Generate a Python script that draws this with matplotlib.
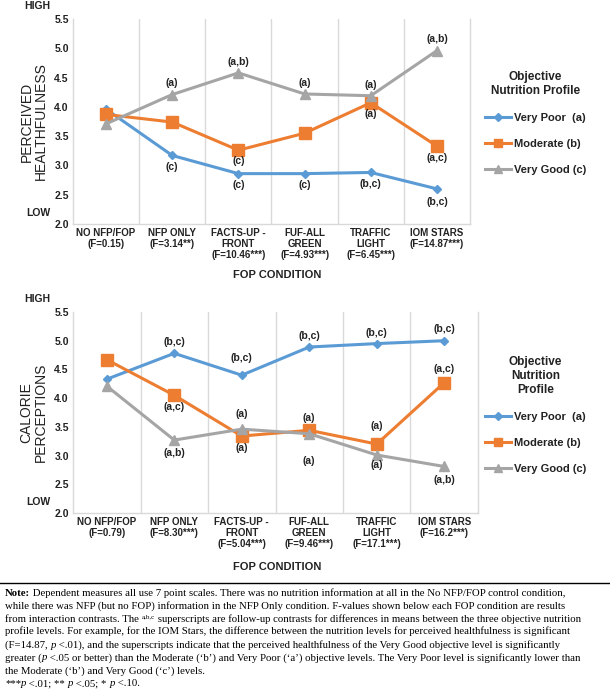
import matplotlib
matplotlib.use("Agg")
import matplotlib.pyplot as plt
from matplotlib.lines import Line2D

plt.rcParams['font.family'] = ['Liberation Sans', 'DejaVu Sans']

conditions = ["NO NFP/FOP", "NFP ONLY", "FACTS-UP -\nFRONT", "FUF-ALL\nGREEN", "TRAFFIC\nLIGHT", "IOM STARS"]
f_health = ["(F=0.15)", "(F=3.14**)", "(F=10.46***)", "(F=4.93***)", "(F=6.45***)", "(F=14.87***)"]
f_cal = ["(F=0.79)", "(F=8.30***)", "(F=5.04***)", "(F=9.46***)", "(F=17.1***)", "(F=16.2***)"]

series_names = ["Very Poor  (a)", "Moderate (b)", "Very Good (c)"]

health_very_poor = [3.96, 3.17, 2.86, 2.86, 2.88, 2.60]
health_moderate = [3.87, 3.74, 3.26, 3.55, 4.07, 3.33]
health_very_good = [3.71, 4.21, 4.58, 4.22, 4.19, 4.96]

cal_very_poor = [4.33, 4.78, 4.40, 4.89, 4.95, 5.00]
cal_moderate = [4.67, 4.05, 3.34, 3.44, 3.20, 4.27]
cal_very_good = [4.21, 3.27, 3.46, 3.38, 3.01, 2.81]

# annotations: (category index, y value, text)
health_labels = [
    (1, 4.40, "(a)"), (1, 2.98, "(c)"),
    (2, 4.77, "(a,b)"), (2, 3.07, "(c)"), (2, 2.66, "(c)"),
    (3, 4.41, "(a)"), (3, 2.66, "(c)"),
    (4, 4.38, "(a)"), (4, 3.88, "(a)"), (4, 2.69, "(b,c)"),
    (5, 5.15, "(a,b)"), (5, 3.13, "(a,c)"), (5, 2.38, "(b,c)"),
]
cal_labels = [
    (1, 4.97, "(b,c)"), (1, 3.85, "(a,c)"), (1, 3.04, "(a,b)"),
    (2, 4.70, "(b,c)"), (2, 3.73, "(a)"), (2, 3.14, "(a)"),
    (3, 5.08, "(b,c)"), (3, 3.65, "(a)"), (3, 2.90, "(a)"),
    (4, 5.13, "(b,c)"), (4, 3.51, "(a)"), (4, 2.83, "(a)"),
    (5, 5.20, "(b,c)"), (5, 4.51, "(a,c)"), (5, 2.58, "(a,b)"),
]

colors = ["#5b9bd5", "#ed7d31", "#a5a5a5"]
markers = ["D", "s", "^"]
msizes = [4.5, 8, 7]
txtc = "#222222"
gridc = "#d9d9d9"

W, H = 610, 690
fig = plt.figure(figsize=(W / 100, H / 100), dpi=100)


def panel(rect, data, labels, flabels, ylab, legend_top_px, legend_title):
    ax = fig.add_axes(rect)
    x = list(range(len(conditions)))
    for vals, c, m, ms in zip(data, colors, markers, msizes):
        ax.plot(x, vals, color=c, lw=2.2, marker=m, ms=ms, mec=c, mfc=c, zorder=3)
    ax.set_xlim(-0.5, len(conditions) - 0.5)
    ax.set_ylim(2.0, 5.5)
    yt = [2.0, 2.5, 3.0, 3.5, 4.0, 4.5, 5.0, 5.5]
    ax.set_yticks(yt)
    ax.set_yticklabels([f"{v:.1f}" for v in yt], fontsize=7.5, fontweight='bold', color=txtc)
    for xv in range(1, len(conditions)):
        ax.axvline(xv - 0.5, color=gridc, lw=1.0, zorder=1)
    ax.set_xticks(x)
    ax.set_xticklabels([f"{c}\n{f}" for c, f in zip(conditions, flabels)],
                       fontsize=7, fontweight='bold', color=txtc, linespacing=1.1)
    ax.tick_params(length=0, pad=3)
    for s in ["left", "bottom", "right"]:
        ax.spines[s].set_color(gridc)
        ax.spines[s].set_linewidth(1.0)
    ax.spines["top"].set_visible(False)
    for i, yv, t in labels:
        ax.text(i, yv, t, ha='center', va='center', fontsize=7.5, fontweight='bold', color=txtc)
    ax.set_ylabel(ylab, fontsize=10, color=txtc, labelpad=5, linespacing=1.0)
    ax_h_px = rect[3] * H
    ax_w_px = rect[2] * W
    ax.text(-49 / ax_w_px, 1 + 13 / ax_h_px, "HIGH", transform=ax.transAxes, va='center',
            fontsize=7.5, fontweight='bold', color=txtc)
    ax.text(-47 / ax_w_px, 0.053, "LOW", transform=ax.transAxes, va='center',
            fontsize=7.5, fontweight='bold', color=txtc)
    handles = [Line2D([0], [0], color=c, lw=2.2, marker=m, ms=ms * 0.8, mec=c, mfc=c)
               for c, m, ms in zip(colors, markers, msizes)]
    leg = fig.legend(handles, series_names, loc='upper left',
                     bbox_to_anchor=(485 / W, 1 - legend_top_px / H),
                     frameon=False, title=legend_title, handlelength=2.3, handletextpad=0.3,
                     labelspacing=1.45, borderpad=0, borderaxespad=0,
                     prop={'weight': 'bold', 'size': 8},
                     title_fontproperties={'weight': 'bold', 'size': 8.5})
    leg._legend_box.align = "center"
    leg.get_title().set_multialignment('center')
    for t in leg.get_texts():
        t.set_color(txtc)
    leg.get_title().set_color(txtc)
    return ax


ax1 = panel([73 / W, 1 - 224 / H, 397 / W, 205 / H],
            [health_very_poor, health_moderate, health_very_good],
            health_labels, f_health, "PERCEIVED\nHEALTHFULNESS", 71,
            "Objective\nNutrition Profile")
ax2 = panel([73 / W, 1 - 513 / H, 405 / W, 201 / H],
            [cal_very_poor, cal_moderate, cal_very_good],
            cal_labels, f_cal, "CALORIE\nPERCEPTIONS", 356,
            "Objective\nNutrition\nProfile")

fig.text(0.455, 1 - 275 / H, "FOP CONDITION", ha='center', va='center',
         fontsize=8, fontweight='bold', color=txtc)
fig.text(0.455, 1 - 567 / H, "FOP CONDITION", ha='center', va='center',
         fontsize=8, fontweight='bold', color=txtc)

fig.add_artist(Line2D([0, 1], [1 - 583 / H, 1 - 583 / H], color='black', lw=1.0))

# Note text, drawn as runs of differently styled segments
N = {}
B = {'fontweight': 'bold'}
I = {'style': 'italic'}
SUP = {'fontsize': 5.0, 'dy': 3.5}
note_lines = [
    [("Note:", B), (" Dependent measures all use 7 point scales. There was no nutrition information at all in the No NFP/FOP control condition,", N)],
    [("while there was NFP (but no FOP) information in the NFP Only condition. F-values shown below each FOP condition are results", N)],
    [("from interaction contrasts. The ", N), ("a,b,c", SUP), (" superscripts are follow-up contrasts for differences in means between the three objective nutrition", N)],
    [("profile levels. For example, for the IOM Stars, the difference between the nutrition levels for perceived healthfulness is significant", N)],
    [("(F=14.87, ", N), ("p", I), (" <.01), and the superscripts indicate that the perceived healthfulness of the Very Good objective level is significantly", N)],
    [("greater (", N), ("p", I), (" <.05 or better) than the Moderate (‘b’) and Very Poor (‘a’) objective levels. The Very Poor level is significantly lower than", N)],
    [("the Moderate (‘b’) and Very Good (‘c’) levels.", N)],
    [("***", N), ("p", I), (" <.01; ** ", N), ("p", I), (" <.05; * ", N), ("p", I), (" <.10.", N)],
]
renderer = fig.canvas.get_renderer()
note_fs = 7.75


def seg_width(s, kw):
    props = dict(family='Liberation Serif', fontsize=kw.get('fontsize', note_fs))
    if 'fontweight' in kw:
        props['fontweight'] = kw['fontweight']
    if 'style' in kw:
        props['style'] = kw['style']
    t1 = fig.text(0, 0, s + "|", **props)
    t2 = fig.text(0, 0, "|", **props)
    w = t1.get_window_extent(renderer).width - t2.get_window_extent(renderer).width
    t1.remove()
    t2.remove()
    return w, props


base_y = 595.5
for k, segs in enumerate(note_lines):
    xp = 5.0
    yp = base_y + k * 13.0
    for s, kw in segs:
        w, props = seg_width(s, kw)
        fig.text(xp / W, 1 - (yp - kw.get('dy', 0)) / H, s, ha='left', va='baseline',
                 color='black', **props)
        xp += w

fig.savefig("out.png", dpi=100)
